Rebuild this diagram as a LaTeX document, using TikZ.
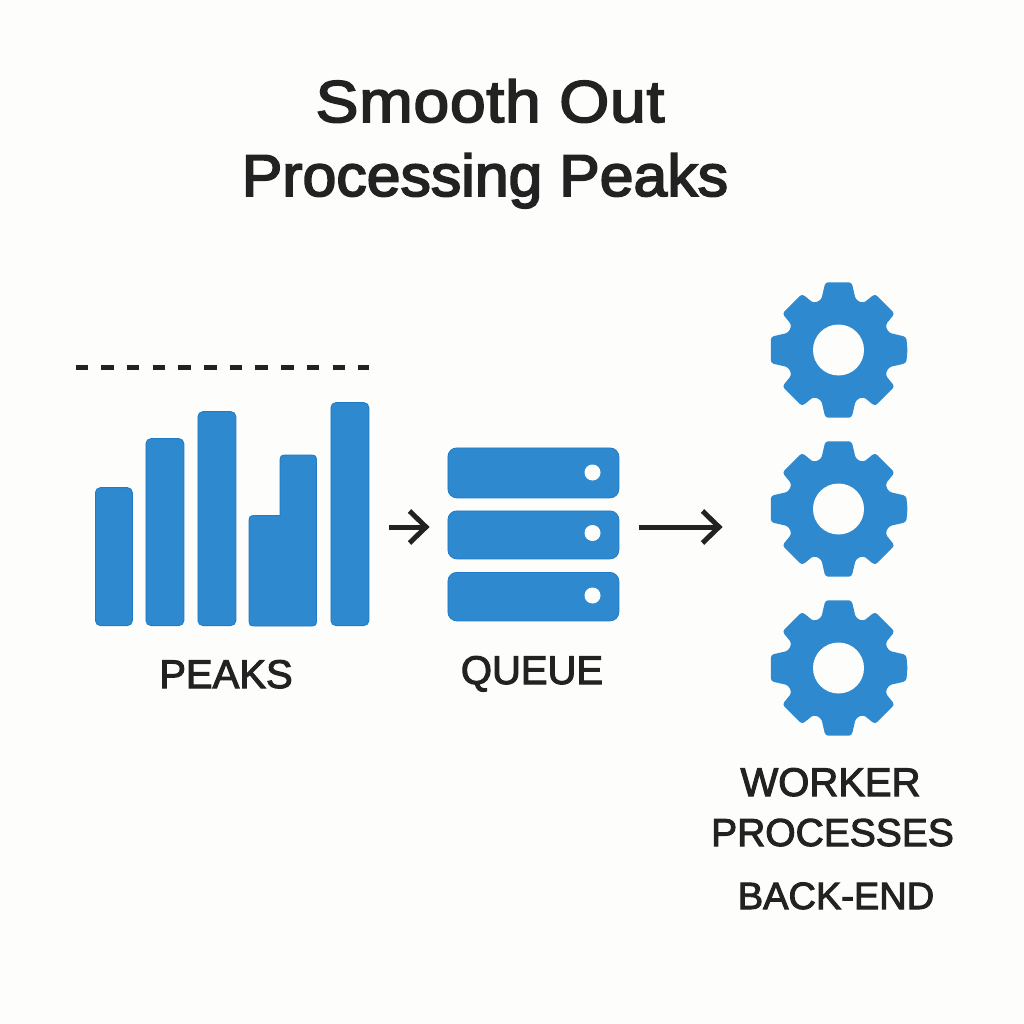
\documentclass[tikz,border=0pt]{standalone}
\usepackage{fontspec}
\setmainfont{Liberation Sans}
\newfontfamily\titlefont[FakeBold=3,FakeStretch=1.09,LetterSpace=1.2]{Liberation Sans}
\newfontfamily\titlefontb[FakeBold=3,FakeStretch=1.03]{Liberation Sans}
\newfontfamily\labelfont[FakeBold=2.6]{Liberation Sans}
\definecolor{bgc}{HTML}{FDFDFB}
\definecolor{blu}{HTML}{2F89CF}
\definecolor{edg}{HTML}{1F7AC8}
\definecolor{ink}{HTML}{222222}
\tikzset{
  barbox/.style={fill=blu,draw=edg,line width=0.8pt,rounded corners=5pt,inner sep=0pt,minimum width=#1,anchor=south west},
  rowbox/.style={fill=blu,draw=edg,line width=0.8pt,rounded corners=9pt,inner sep=0pt,minimum width=171,anchor=north west},
  arr/.style={draw=ink,line width=5pt},
  dot/.style={circle,fill=bgc,inner sep=0pt,minimum size=16},
  ttl/.style={text=ink,inner sep=0pt,anchor=base,font=\fontsize{59}{62}\selectfont},
  lbl/.style={text=ink,inner sep=0pt,anchor=base,font=\labelfont\fontsize{#1}{42}\selectfont},
  gear/.pic={
    \fill[blu,rounded corners=3pt]
      (0:69) -- (11:69) -- (19:53)
      -- (45-17:53) -- (45-12:67) -- (45+12:67) -- (45+17:53)
      -- (90-19:53)
      -- (90-11:69) -- (90+11:69) -- (90+19:53)
      -- (135-17:53) -- (135-12:67) -- (135+12:67) -- (135+17:53)
      -- (180-19:53)
      -- (180-11:69) -- (180+11:69) -- (180+19:53)
      -- (225-17:53) -- (225-12:67) -- (225+12:67) -- (225+17:53)
      -- (270-19:53)
      -- (270-11:69) -- (270+11:69) -- (270+19:53)
      -- (315-17:53) -- (315-12:67) -- (315+12:67) -- (315+17:53)
      -- (360-19:53) -- (-11:69) -- cycle;
    \fill[bgc] (0,0) circle[radius=25.5];
  }
}
\begin{document}
\begin{tikzpicture}[x=1pt,y=-1pt]
\useasboundingbox (0,0) rectangle (1024,1024);
\fill[bgc] (0,0) rectangle (1024,1024);
\node[ttl] (t1) at (490,122) {\titlefont Smooth Out};
\node[ttl] (t2) at (485,196) {\titlefontb Processing Peaks};
\coordinate (ds) at (75.5,367.5);
\coordinate (de) at (369,367.5);
\draw[draw=ink,line width=5pt,dash pattern=on 12.5pt off 13.2pt] (ds) -- (de);
\node[barbox=37,minimum height=138] (b1) at (95,626) {};
\node[barbox=38,minimum height=187] (b2) at (145.5,626) {};
\node[barbox=38,minimum height=214] (b3) at (197.5,626) {};
\draw[fill=blu,draw=edg,line width=0.8pt]
  (249,620) -- (249,521.5) .. controls (249,516.5) and (250,515.5) .. (255,515.5) -- (280,515.5) -- (280,461)
  .. controls (280,456) and (281,455) .. (286,455) -- (310.5,455) .. controls (315.5,455) and (316.5,456) .. (316.5,461)
  -- (316.5,620) .. controls (316.5,625) and (315.5,626) .. (310.5,626) -- (255,626) .. controls (250,626) and (249,625) .. (249,620) -- cycle;
\node[barbox=38,minimum height=223] (b5) at (330.5,626) {};
\node[lbl=40] (peaks) at (226,688) {PEAKS};
\node[rowbox,minimum height=50] (q1) at (447.5,447.5) {};
\node[rowbox,minimum height=48] (q2) at (447.5,510.5) {};
\node[rowbox,minimum height=48.5] (q3) at (447.5,572) {};
\node[dot] (d1) at (592.5,472.5) {};
\node[dot] (d2) at (592.5,533) {};
\node[dot] (d3) at (592.5,595.5) {};
\node[lbl=40] (queue) at (532,684) {QUEUE};
\coordinate (a1s) at (389,527);
\coordinate (a1t) at (426,527);
\coordinate (a1u) at (409.5,511);
\coordinate (a1d) at (409.5,543);
\draw[arr] (a1s) -- (a1t);
\draw[arr,line join=miter] (a1u) -- (a1t) -- (a1d);
\coordinate (a2s) at (639,527);
\coordinate (a2t) at (719,527);
\coordinate (a2u) at (702.5,511);
\coordinate (a2d) at (702.5,543);
\draw[arr] (a2s) -- (a2t);
\draw[arr,line join=miter] (a2u) -- (a2t) -- (a2d);
\pic at (838.5,350) {gear};
\pic at (838.5,509) {gear};
\pic at (838.5,668) {gear};
\node[lbl=40] (w1) at (830.5,796) {WORKER};
\node[lbl=39] (w2) at (832.5,846) {PROCESSES};
\node[lbl=38] (w3) at (836,909) {BACK-END};
\end{tikzpicture}
\end{document}
